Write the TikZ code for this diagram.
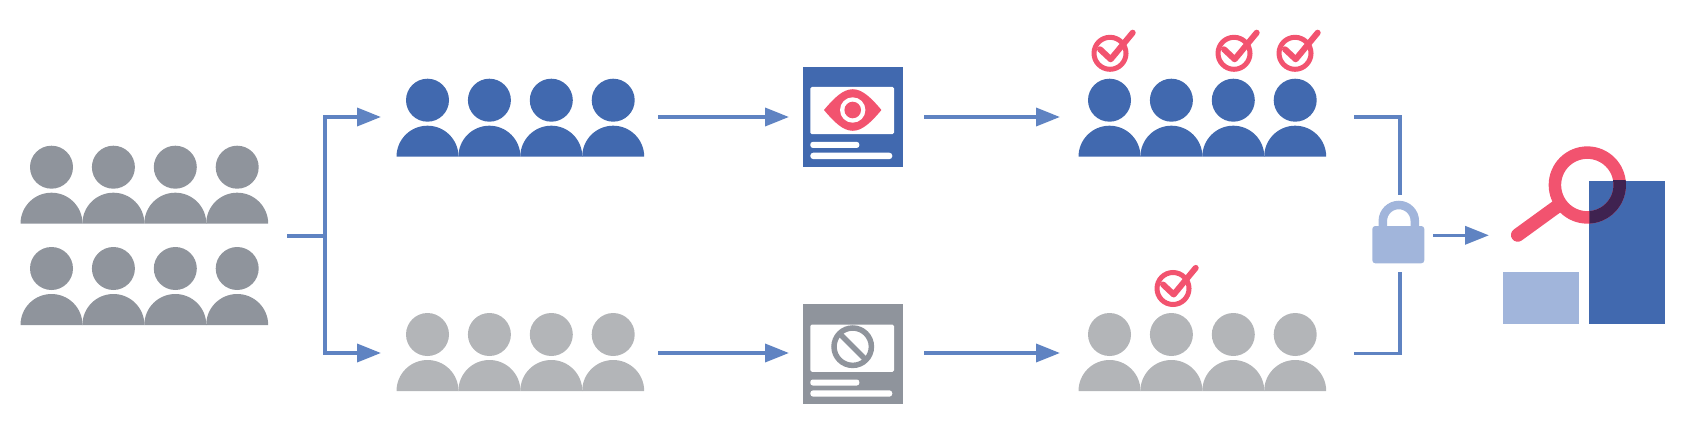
\documentclass[tikz,border=0pt]{standalone}
\usetikzlibrary{arrows.meta}
\definecolor{blueA}{HTML}{4169AF}
\definecolor{blueB}{HTML}{A1B5DB}
\definecolor{lineA}{HTML}{5F83C2}
\definecolor{greyA}{HTML}{8F949C}
\definecolor{greyB}{HTML}{B3B5B8}
\definecolor{redA}{HTML}{F2536F}
\definecolor{darkA}{HTML}{3F2250}
\tikzset{
	flow/.style={draw=lineA, line width=3.6pt, -{Triangle[length=24pt,width=18pt]}},
	rail/.style={draw=lineA, line width=3.6pt}}
\newcommand{\crowd}[3]{% left end, base line, colour
	\foreach \i in {0,1,2,3} {
		\fill[#3] ({#1+31+61.9*\i},{#2+56.5}) circle (21.5);
		\fill[#3] ({#1+61.9*\i},#2) arc[start angle=180, end angle=0, radius=31] -- cycle;
	}}
\newcommand{\tick}[2]{% circle centre
	\draw[redA, line width=5pt] (#1,#2) circle (16);
	\draw[redA, line width=6pt, line cap=round, line join=round] ({#1-10},{#2+4}) -- ({#1+0.7},{#2-6}) -- ({#1+22.7},{#2+20.6});}
\newcommand{\page}[3]{% upper left corner, colour
	\fill[#3] (#1,#2) rectangle ++(100,-100);
	\fill[white, rounded corners=1.5pt] ({#1+7.6},{#2-20.3}) rectangle ++(83.7,-47.2);
	\fill[white, rounded corners=2.5pt] ({#1+7.6},{#2-75.2}) rectangle ++(49,-6);
	\fill[white, rounded corners=3pt] ({#1+7.6},{#2-86}) rectangle ++(82,-6.4);}
\begin{document}
\begin{tikzpicture}[x=1pt, y=1pt]
\useasboundingbox (0,0) rectangle (1694,424);
\crowd{20.5}{200.3}{greyA} % all people
\crowd{20.5}{99}{greyA}
\crowd{396.5}{267.3}{blueA} % shown
\crowd{396.5}{33}{greyB} % not shown
\crowd{1078.5}{267.3}{blueA}
\crowd{1078.5}{33}{greyB}
\tick{1110}{370.7}
\tick{1234}{370.7}
\tick{1295}{370.7}
\tick{1173}{135.5}
\page{802.7}{357.3}{blueA}
\page{802.7}{119.7}{greyA}
% eye
\fill[redA] (824,314) .. controls (834,326) and (843,334.8) .. (852.7,334.8) .. controls (862.4,334.8) and (871.4,326) .. (881.4,314) .. controls (871.4,302) and (862.4,293.2) .. (852.7,293.2) .. controls (843,293.2) and (834,302) .. (824,314) -- cycle;
\fill[white] (852.7,314) circle (12.7);
\fill[redA] (852.7,314) circle (8.3);
% no entry sign
\draw[greyA, line width=5.5pt] (852.7,77.3) circle (18.7);
\draw[greyA, line width=5.5pt] (839.5,90.5) -- (865.9,64.1);
% connectors
\coordinate (start) at (287,188.3);
\coordinate (fork) at (325,188.3);
\coordinate (upA) at (325,307);
\coordinate (upB) at (381,307);
\coordinate (lowA) at (325,71);
\coordinate (lowB) at (381,71);
\draw[rail] (start) -- (fork);
\draw[flow] (fork) -- (upA) -- (upB);
\draw[flow] (fork) -- (lowA) -- (lowB);
\coordinate (crowdUp) at (658,307);
\coordinate (pageUpIn) at (789,307);
\coordinate (pageUpOut) at (924,307);
\coordinate (doneUp) at (1060,307);
\coordinate (crowdLow) at (658,71);
\coordinate (pageLowIn) at (789,71);
\coordinate (pageLowOut) at (924,71);
\coordinate (doneLow) at (1060,71);
\draw[flow] (crowdUp) -- (pageUpIn);
\draw[flow] (pageUpOut) -- (doneUp);
\draw[flow] (crowdLow) -- (pageLowIn);
\draw[flow] (pageLowOut) -- (doneLow);
\coordinate (lockUp) at (1399.7,229);
\coordinate (lockLow) at (1399.7,152.3);
\coordinate (joinUp) at (1354,307.3);
\coordinate (joinLow) at (1354,70.7);
\draw[rail] (joinUp) -| (lockUp);
\draw[rail] (joinLow) -| (lockLow);
\coordinate (lockOut) at (1433,188.7);
\coordinate (lensIn) at (1489,188.7);
\draw[flow] (lockOut) -- (lensIn);
% lock
\fill[blueB, rounded corners=3pt] (1372.3,160.7) rectangle (1424.3,198);
\draw[blueB, line width=8.5pt] (1382.8,198) -- (1382.8,203) arc[start angle=180, end angle=0, radius=16] -- (1414.8,198);
% bars
\fill[blueB] (1503.3,100) rectangle (1578.7,152.3);
\fill[blueA] (1589.3,100) rectangle (1665,243.3);
% magnifier
\draw[redA, line width=13.5pt, line cap=round] (1517.7,189) -- (1556.7,217.3);
\draw[redA, line width=12.5pt] (1587.3,239) circle (32.4);
\begin{scope}
\clip (1589.3,100) rectangle (1665,243.3);
\draw[darkA, line width=12.5pt] (1587.3,239) circle (32.4);
\end{scope}
\end{tikzpicture}
\end{document}
